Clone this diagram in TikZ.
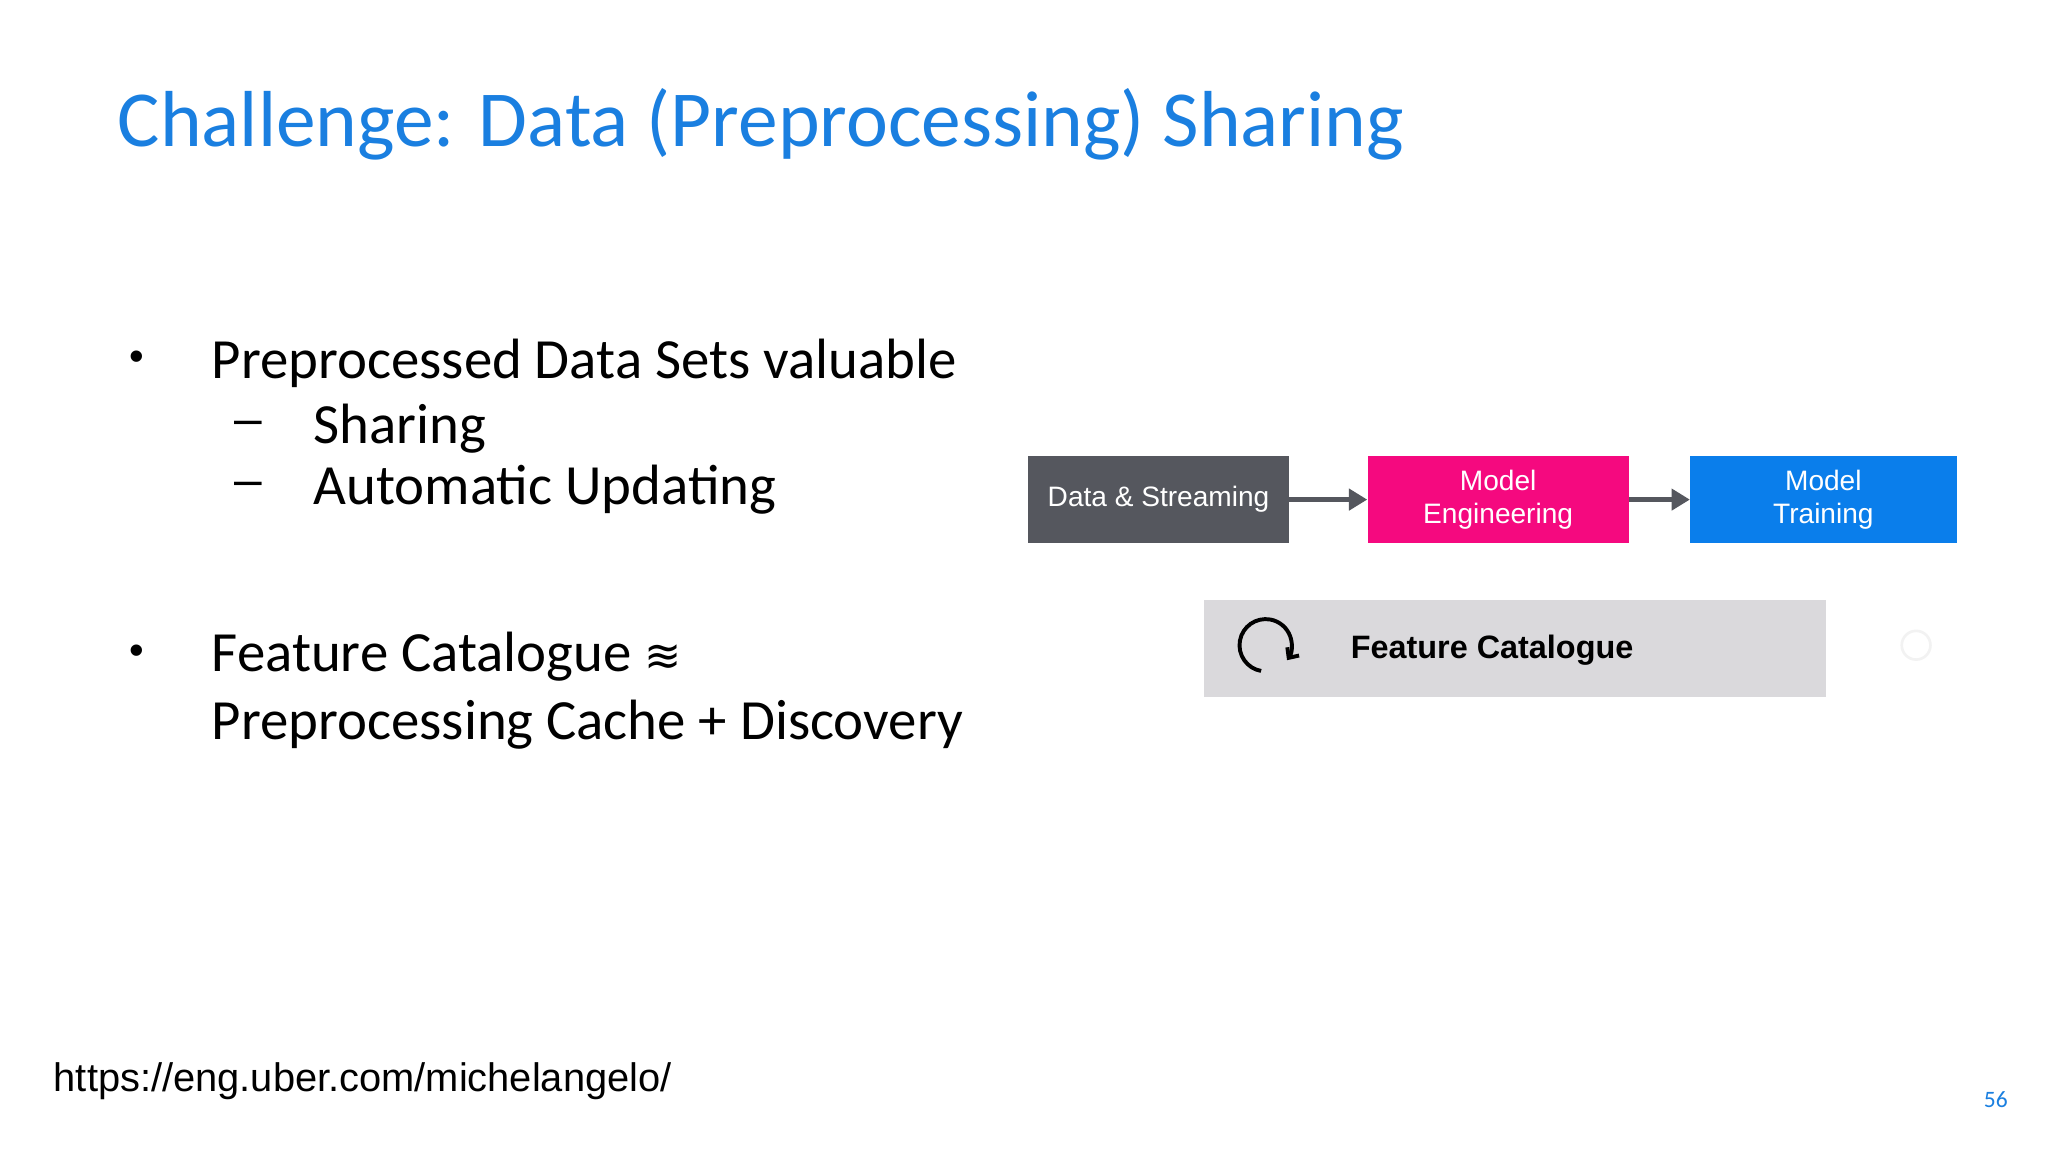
\documentclass[tikz,border=0pt]{standalone}
\usepackage{fontspec}
\setmainfont{Carlito}
\newfontfamily\arialf{Liberation Sans}
\newfontfamily\djv{DejaVu Sans}
\usetikzlibrary{arrows.meta}
\definecolor{ttl}{HTML}{1A7FE0}
\definecolor{dgray}{HTML}{55575E}
\definecolor{mag}{HTML}{F5097F}
\definecolor{blu}{HTML}{0A7EEB}
\definecolor{lgray}{HTML}{DAD9DC}
\tikzset{
 flowbox/.style={minimum width=200pt,minimum height=67pt,inner sep=0pt,text=white,font=\arialf\fontsize{21.5}{25}\selectfont,align=center},
 flowarrow/.style={draw=dgray,line width=4pt,-{Triangle[length=14pt,width=16pt]}},
 bul/.style={anchor=west,font=\fontsize{43.5}{48}\selectfont,inner sep=0pt},
 dsh/.style={anchor=west,font=\arialf\fontsize{38}{40}\selectfont,inner sep=0pt}
}
\begin{document}
\begin{tikzpicture}[x=1pt,y=-1pt]
\useasboundingbox[fill=white] (0,0) rectangle (1568,882);
\node[anchor=west,text=ttl,font=\fontsize{60.8}{64}\selectfont,inner sep=0pt] (title) at (90,95) {Challenge: Data (Preprocessing) Sharing};
\node[anchor=west,font=\arialf\fontsize{32}{36}\selectfont,inner sep=0pt] (b1) at (99,276) {•};
\node[bul] (t1) at (162,278) {Preprocessed Data Sets valuable};
\node[dsh] (d1) at (179,328) {–};
\node[bul] (t2) at (240,328) {Sharing};
\node[dsh] (d2) at (179,375) {–};
\node[bul] (t3) at (240,375) {Automatic Updating};
\node[anchor=west,font=\arialf\fontsize{32}{36}\selectfont,inner sep=0pt] (b2) at (99,501) {•};
\node[bul] (t4) at (162,503) {Feature Catalogue {\djv\fontsize{34}{38}\selectfont ≋}};
\node[bul] (t5) at (162,555) {Preprocessing Cache + Discovery};
\node[flowbox,fill=dgray] (ds) at (887,382.5) {Data \& Streaming};
\node[flowbox,fill=mag] (me) at (1147,382.5) {Model\\Engineering};
\node[flowbox,fill=blu,minimum width=204pt] (mt) at (1396,382.5) {Model\\Training};
\draw[flowarrow] (ds.east) -- (me.west);
\draw[flowarrow] (me.east) -- (mt.west);
\node[fill=lgray,minimum width=476pt,minimum height=74pt,inner sep=0pt] (fc) at (1160,496.5) {};
\node[anchor=west,font=\arialf\bfseries\fontsize{24.8}{28}\selectfont,inner sep=0pt] (fct) at (1034,498) {Feature Catalogue};
\coordinate (ic) at (969,494);
\draw[line width=3pt,-{Straight Barb[length=6pt,width=11pt]}] ([shift={(100:20)}]ic) arc[start angle=100,end angle=395,radius=20];
\draw[black!5,line width=2pt] (1467,494) circle (11);
\node[anchor=west,font=\arialf\fontsize{30.5}{34}\selectfont,inner sep=0pt] (url) at (41,828) {https://eng.uber.com/michelangelo/};
\node[text=ttl,font=\fontsize{18}{20}\selectfont,inner sep=0pt] (pn) at (1528,842) {56};
\end{tikzpicture}
\end{document}
